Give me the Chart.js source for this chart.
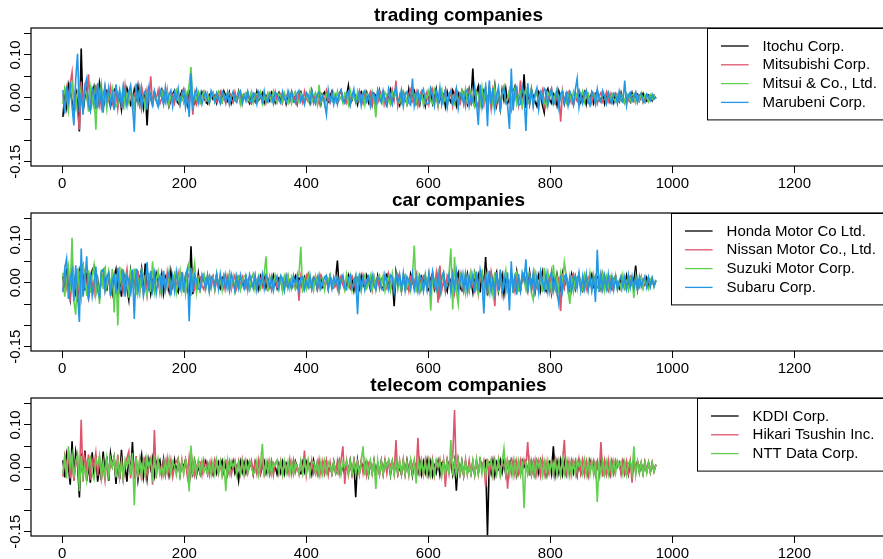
<!DOCTYPE html>
<html>
<head>
<meta charset="utf-8">
<script src="https://cdn.jsdelivr.net/npm/chart.js@4/dist/chart.umd.min.js"></script>
<style>
  html, body { margin: 0; padding: 0; background: #fff; width: 883px; height: 559px; overflow: hidden; }
  canvas { position: absolute; left: 0; }
</style>
</head>
<body>
<canvas id="trading" width="886" height="200" style="top:0px"></canvas>
<canvas id="car" width="886" height="200" style="top:185px"></canvas>
<canvas id="telecom" width="886" height="190" style="top:369px"></canvas>
<script>
// Daily returns in thousandths, one value every DAY_STEP trading days.
const DAY_STEP = 3;

// trading companies
const itochu = [
  -45,6,-22,31,12,-8,-27,19,4,-79,115,-33,2,21,-14,-29,8,26,-5,-18,35,11,-24,-3,16,
  9,-21,-4,17,25,-12,3,-28,14,-6,22,7,-17,-10,19,-2,27,-15,5,-24,13,-65,18,1,-9,
  14,-3,-16,8,19,-11,2,12,-20,-6,9,17,-5,-13,4,15,-9,6,-17,11,22,-7,-14,3,10,
  -6,13,1,-9,-14,7,11,-3,5,-12,9,-2,-10,15,4,-7,12,-13,2,8,-5,14,-11,-1,6,
  10,-4,-13,8,3,-9,14,-6,1,11,-12,5,-2,-8,13,7,-11,4,12,-6,-3,9,-14,6,-1,
  12,-7,3,-15,9,14,-4,-11,6,1,-13,16,-8,5,-2,11,-15,7,13,-5,-10,4,15,-9,2,
  -12,8,16,-3,-10,5,28,-14,-6,11,3,-16,9,14,-7,-2,12,-11,6,-15,10,4,-8,17,-5,
  13,-4,-17,9,20,-11,2,15,-8,-18,6,12,-3,-14,19,-9,7,16,-13,1,-16,11,5,-19,8,
  -7,18,-13,4,21,-16,-5,12,9,-20,14,-2,-11,17,6,-18,10,-4,15,-9,3,-14,19,-6,68,
  -22,11,27,-8,-19,15,4,-25,23,-12,-3,29,-17,8,-26,18,-6,21,-14,5,-23,12,26,-10,-4,
  16,-11,55,-24,7,-15,19,3,-9,-20,14,8,-17,-35,12,21,-6,-13,10,4,-18,15,-2,11,-14,
  7,-13,12,2,-16,9,-5,14,-10,3,13,-15,6,-1,11,-12,8,16,-7,-3,10,-14,5,12,-9,
  6,-11,9,3,-8,12,-4,-10,7,1,-9,11,-6,4,8,-7,2,10,-5,-8,6,3,-7,5,-2
];
const mitsubishi = [
  8,-27,21,-6,33,60,-19,4,-31,-75,38,-12,25,2,55,-28,11,-20,30,-9,14,-23,6,27,-15,
  -8,24,-14,3,19,-26,12,5,-18,28,-11,-2,20,-23,9,15,-7,-21,26,4,-16,18,-5,50,-22,
  11,-4,17,-14,-2,13,-9,19,-16,5,8,-12,15,-3,-18,10,21,-7,4,-13,15,-40,9,-15,6,
  -11,3,14,-7,9,-13,1,12,-5,-10,8,15,-9,2,-14,6,11,-4,-12,13,-6,2,10,-15,7,
  -3,12,-9,-14,6,10,-2,13,4,-11,8,-13,2,11,-7,-5,14,-10,3,9,-12,6,-1,12,-8,
  13,-6,2,-14,10,7,-11,15,-3,-9,12,4,-13,8,-1,-15,11,6,-10,16,-4,-12,9,3,-7,
  -14,9,17,-5,2,-12,10,-16,6,13,-3,-9,15,1,-13,11,-7,4,14,-17,8,-2,-11,16,5,
  12,-16,3,9,-13,17,-5,40,-19,6,-11,14,2,-15,8,19,-10,-4,13,-18,7,16,-9,-14,11,
  -16,6,20,-11,3,-21,14,9,-7,18,-14,-3,16,-19,10,22,-8,-15,5,13,-20,7,17,-12,1,
  19,-9,-23,14,6,-17,24,-4,11,-26,21,3,-14,18,-20,8,25,-11,-6,16,-24,12,2,19,-15,
  40,-17,8,13,-11,-4,20,-16,6,15,-13,3,18,-20,9,-7,14,22,-10,-15,11,4,-56,16,-8,
  5,13,-11,2,-15,10,-6,14,8,-12,-3,16,-9,1,-13,11,7,-14,4,12,-10,-2,13,-8,9,
  -10,6,11,-3,-8,9,2,-12,7,-5,10,-1,-9,12,4,-7,8,-11,3,6,-8,5,-4,6,-2
];
const mitsui = [
  -15,22,4,-31,17,34,-10,-26,13,29,-3,-24,18,7,-33,23,-11,14,-75,26,-6,31,-19,9,-27,
  19,-7,23,2,-21,-14,16,-3,27,-18,8,-12,20,5,-24,14,-9,21,-17,3,-26,11,17,-6,-15,
  12,-4,-15,9,16,-10,3,14,-17,7,-8,11,18,-6,-14,5,-11,16,2,30,72,-24,9,-3,13,
  -12,4,14,-6,9,-14,2,12,-9,6,15,-3,-11,8,-1,13,-13,5,10,-7,-2,12,-15,7,3,
  11,-8,-2,14,-12,6,9,-4,13,-14,3,-10,12,1,-8,15,-5,-12,9,4,-9,11,-3,-13,10,
  -13,6,14,-2,-11,10,3,-14,9,-6,16,-10,4,12,-15,30,-12,5,-16,8,13,-4,-9,11,-7,
  15,-6,2,-13,11,8,-15,17,-3,6,-12,14,-8,1,12,-17,9,4,-11,14,-6,-46,15,-4,9,
  -14,13,5,-10,-16,12,3,15,-9,-13,18,-4,9,-15,2,-11,16,7,-12,14,-5,10,-17,8,-2,
  17,-8,-14,19,4,-17,12,21,-11,2,-20,9,14,-5,-15,13,-19,6,16,-8,20,-12,-3,15,-10,
  -22,13,6,-17,24,-9,19,-26,4,11,-18,23,-6,14,-24,9,25,-12,-3,17,-20,10,22,-14,5,
  13,-18,8,19,-12,-5,21,-15,3,10,-16,14,6,-9,-19,12,2,17,-13,8,20,-11,-4,15,-8,
  -14,5,12,-9,14,-3,10,-12,2,15,-10,7,11,-15,4,9,-12,13,-4,-9,12,3,-13,10,-5,
  9,-3,-10,8,12,-7,4,-11,10,1,-8,6,9,-12,3,-5,11,-8,7,2,-9,6,-3,5,-2
];
const marubeni = [
  18,-37,26,-8,36,-21,-65,43,103,-34,12,-40,27,45,-18,-31,22,9,-26,34,-14,19,-35,24,-6,
  23,-17,8,-29,31,-5,18,-24,27,4,-19,14,29,-12,-80,33,-9,21,-25,6,16,-28,22,-4,-18,
  15,-8,-21,19,3,-16,24,-11,7,17,-20,12,-5,21,-14,9,18,-23,4,-45,57,-17,8,20,-12,
  10,-15,3,13,-8,-12,16,5,-10,11,-3,-14,15,7,-9,12,-16,2,14,-6,-11,9,16,-13,4,
  -8,15,-3,-12,11,6,-15,13,2,-9,16,-7,-11,10,4,-14,12,8,-5,-13,14,-2,-10,15,-6,
  14,-5,-13,10,17,-9,3,-15,12,6,-11,16,-2,-14,9,13,-7,4,-12,-40,18,-8,11,-16,5,
  -15,11,19,-6,-13,8,15,-17,4,20,-11,-5,14,-18,9,16,-9,3,-20,12,7,-14,18,-2,-12,
  16,-6,-18,21,5,-15,12,23,-10,-3,17,-20,8,14,-12,-17,45,-19,6,15,-13,10,20,-8,-16,
  -12,21,6,-19,15,-8,24,-17,3,18,-22,9,16,-14,-5,20,-24,11,7,-16,13,19,-20,4,-9,
  25,-12,-64,31,-21,9,27,-67,40,-16,22,-27,6,24,-33,14,21,-8,-19,-73,68,-30,13,24,-18,
  -15,26,5,-78,34,-12,18,-21,9,23,-26,11,-7,22,16,-19,4,20,-15,-8,17,-23,10,15,-12,
  9,-18,14,4,-16,19,45,-22,7,-13,12,17,-10,-18,14,3,-15,20,-6,-11,16,2,-14,11,-5,
  -13,10,4,-14,15,-6,-11,40,-18,7,12,-9,2,13,-11,6,10,-8,-12,9,3,-7,8,-4,2
];

// car companies
const honda = [
  15,-24,33,-8,-37,42,11,-29,-40,27,4,35,-18,23,-32,-6,29,38,-21,7,-34,17,2,28,-19,
  21,-8,-27,12,31,-19,4,-33,24,9,-14,-40,27,-3,16,-28,22,6,33,-17,45,-23,11,-26,3,
  -18,22,5,-15,19,-24,14,2,-20,26,-7,17,-13,-22,12,20,-4,15,-17,-30,85,-27,9,-14,21,
  -15,6,17,-9,12,-16,3,14,-11,19,-6,-14,10,16,-3,-12,18,-8,5,-17,11,15,-13,2,-10,
  13,-6,-16,12,18,-9,4,-15,14,-3,16,-11,9,-5,-14,17,2,-13,11,7,-16,10,-4,14,-8,
  -12,4,15,-9,11,6,-14,12,-3,17,-10,-6,13,9,-15,3,14,-11,-7,12,-13,15,2,-9,8,
  52,-17,6,12,-13,-4,16,-10,9,-18,13,2,-14,15,-7,-11,17,4,-15,10,7,-12,16,-5,-9,
  -16,12,19,-7,-14,10,-55,24,-3,14,-19,8,15,-11,-17,20,5,-13,18,-8,-20,13,2,17,-12,
  -18,9,22,-15,4,17,-24,12,19,-6,-20,14,-2,21,-16,8,23,-11,-18,13,-4,20,-15,6,-22,
  20,-8,16,-23,27,-12,60,-30,5,21,-17,11,25,-20,3,19,-26,14,8,-23,22,-11,-18,25,-5,
  -20,12,21,-9,-15,25,-6,14,-22,3,19,-16,23,-8,-19,15,5,-24,18,-11,20,-3,-17,21,-9,
  14,-6,-18,20,3,-15,12,17,-10,-19,8,15,-13,4,19,-11,-16,13,7,-14,18,-5,11,-16,2,
  -13,9,15,-6,-14,11,3,-12,16,-7,-10,12,4,40,-16,8,13,-9,-5,11,-10,6,3,-7,4
];
const nissan = [
  -18,27,-8,34,-45,60,-31,6,-37,24,13,-27,32,-14,-35,19,2,-23,30,-11,-33,15,21,-18,7,
  17,-25,4,21,-9,-31,13,27,-20,6,32,-16,-26,10,19,-13,28,-22,3,-24,18,-29,9,22,-12,
  -19,8,16,-22,13,4,-15,24,-11,-21,14,7,-18,22,-5,17,-13,-23,11,20,-9,19,-14,3,16,
  14,-7,-16,10,3,16,-12,12,-18,5,-10,15,2,-14,18,-8,11,-16,4,17,-13,7,-11,14,-2,
  -13,6,14,-9,-4,17,-14,3,10,-12,-6,16,-9,12,-17,4,15,-11,-7,13,9,-15,16,-3,5,
  11,-4,-13,15,-42,14,-10,3,16,-8,6,-15,11,-2,14,-11,17,5,-13,9,-16,13,1,-10,15,
  -14,8,16,-6,-17,12,2,-9,15,5,-16,13,10,-12,17,-4,-11,14,6,-18,15,-3,11,-14,8,
  16,-5,-14,19,-8,12,-18,2,20,7,-13,17,-15,4,-19,14,9,-10,18,-17,3,-14,16,11,-15,
  19,-11,16,-8,22,-47,40,-18,5,-21,17,8,-12,19,-23,11,-16,21,-4,-19,15,6,-17,22,-9,
  -21,12,-25,18,7,-16,22,-7,-19,26,4,-55,25,-12,16,-26,9,20,-13,-18,23,4,-20,17,-6,
  -18,14,22,-9,-23,16,3,-17,21,-7,-20,18,11,-15,-4,20,-18,25,-9,6,-24,13,-66,21,-10,
  16,-8,-16,14,21,-13,5,18,-15,-6,17,-14,9,19,-16,3,15,-12,-8,20,-14,16,2,-15,11,
  -13,7,16,-10,3,-15,12,6,-12,9,15,-6,-13,12,4,-9,13,-11,2,-8,12,-5,9,-7,4
];
const suzuki = [
  23,-33,6,38,-21,105,-44,-75,34,-12,-38,45,10,-31,29,-24,16,41,-27,4,-50,31,-15,37,-9,
  25,-14,32,-70,21,-100,38,-6,31,-27,12,-35,24,-2,33,-29,7,-24,30,18,-12,-31,19,-22,50,
  -21,9,27,-16,-28,19,4,-13,25,-22,8,20,-24,3,28,-18,12,-26,21,50,-31,17,45,-23,6,
  -17,8,20,-14,16,-19,4,13,-15,22,-7,10,-18,17,2,-14,21,-9,15,-20,6,14,-17,3,16,
  15,-9,-18,12,21,-16,6,17,-13,3,19,62,-21,14,-6,-12,18,5,-16,11,-19,15,-4,17,-14,
  13,-8,-16,11,18,84,-23,6,-14,17,-10,4,-18,15,-5,16,-13,8,-17,14,3,18,-14,-6,11,
  14,-17,5,11,-15,19,-7,16,-18,3,17,-12,15,-19,6,18,-13,-4,16,-15,12,-18,7,17,-10,
  16,-19,4,13,-17,21,-8,18,-16,2,-20,15,19,-12,6,-18,14,87,-23,16,-19,5,-17,20,-9,
  18,-65,22,4,-16,20,-23,9,24,-14,-6,21,80,-63,60,-20,-50,23,-8,19,-24,11,-18,23,3,
  22,-11,-26,19,28,-17,3,24,-23,8,-27,20,11,-15,25,-22,4,29,-19,-6,15,-25,21,26,-20,
  -19,23,4,-16,21,17,-24,-40,20,-6,-18,15,-22,35,-17,24,3,-20,42,-12,16,-21,22,-5,48,
  18,-15,-50,16,-20,14,3,21,-13,-18,19,6,-18,22,-14,17,-21,5,15,-12,20,-17,13,-9,16,
  15,-6,17,-16,4,-14,18,-11,3,-17,13,9,-36,16,-12,2,14,-13,11,-6,-15,8,13,-10,5
];
const subaru = [
  -22,33,56,-38,9,28,-43,41,-25,-92,80,-33,6,62,-41,23,-31,2,38,-20,-35,25,31,-17,13,
  23,-31,7,17,-25,35,-20,-8,29,-33,16,4,-22,31,-85,33,-23,10,28,-31,-5,48,-20,27,-17,
  21,-25,3,16,-21,28,-17,9,23,-29,14,-19,26,-4,-16,24,-23,17,33,-90,35,-22,18,5,-15,
  -16,19,3,-13,17,-20,14,8,-10,18,-15,21,-5,16,-14,12,-18,20,4,-19,15,-12,18,-3,-15,
  14,-17,19,5,-13,16,-18,12,-2,20,-14,17,7,-11,13,-19,3,15,-12,17,10,-18,14,-13,4,
  -13,16,-4,15,-17,11,14,-16,2,-11,17,-14,12,6,-15,16,-13,-3,14,17,-15,11,-14,13,-5,
  15,-14,4,17,-12,-16,11,18,-13,-2,16,-74,21,-14,12,-17,6,15,-11,18,-8,-16,12,9,-13,
  -17,20,3,-16,18,13,-21,17,-5,19,-15,22,-18,14,4,-13,21,-16,12,-19,18,7,-20,13,-17,
  21,-18,25,-4,-16,19,-22,14,24,-15,-6,18,-23,16,-12,26,-19,3,22,-17,20,-21,15,-8,18,
  -22,26,-19,30,6,-72,22,-17,28,-21,8,-25,23,-18,31,-26,15,-20,24,-65,50,-23,19,-28,21,
  -17,22,6,55,-24,18,-14,23,-19,15,-22,26,3,-16,20,-21,14,24,-18,9,-23,-50,17,-20,16,
  19,-16,14,-20,4,17,-13,22,-18,15,-14,20,-17,12,-19,16,-45,77,-22,18,-14,17,-13,20,-16,
  14,-17,12,-15,3,16,-11,13,-14,18,-12,15,-13,11,-16,14,-10,4,15,-11,12,-10,11,-8,7
];

// telecom companies
const kddi = [
  17,-23,31,4,-40,62,-28,37,9,-70,33,-21,40,-31,6,-35,36,-17,27,-33,3,-29,38,-14,26,
  -31,33,4,24,-38,20,-27,42,-22,1,-33,28,-14,60,-25,20,-29,5,30,-21,14,-26,19,-3,22,
  -18,14,3,17,-12,20,-15,11,-19,5,-13,18,-10,15,-17,12,2,19,-11,-40,16,-13,15,-18,4,
  -14,12,3,15,-13,9,-2,-16,11,-12,13,1,16,-11,10,-15,12,-9,14,-13,2,-30,13,-10,12,
  -11,14,2,10,-15,12,-9,13,-14,4,15,-12,8,-13,14,-10,3,-15,9,-11,13,-14,10,-2,11,
  13,-12,15,2,-11,-14,12,-9,14,3,10,-15,16,-11,12,-14,9,13,-12,15,-10,4,-13,14,-11,
  -13,15,-11,3,-16,12,-10,17,-14,11,-69,16,-12,13,2,10,14,-17,12,-11,15,-13,9,-14,16,
  -14,16,3,15,-17,13,-11,18,-15,4,-16,14,-13,17,-10,15,-18,11,2,-12,16,-15,13,-11,17,
  -15,13,-18,4,-12,14,-17,11,15,-13,18,2,12,-16,14,-54,17,-12,15,-18,13,-11,3,-14,12,
  -16,14,-12,18,3,13,17,-158,15,-13,16,-18,12,-2,17,-11,15,-16,13,-12,18,4,14,-17,12,
  -14,16,2,15,-11,17,-15,12,-16,14,-12,18,3,13,-17,11,15,-13,50,-16,14,-12,17,-15,13,
  -15,12,4,16,-11,13,-17,14,-12,15,-13,11,-16,17,2,14,-15,12,-13,16,-11,14,-14,3,-16,
  13,-11,15,2,12,-10,14,-13,11,-15,12,-9,13,3,14,-11,10,-13,12,-9,11,-10,9,-8,6
];
const hikari = [
  -21,28,3,33,-25,21,-31,6,23,-35,112,-33,25,-4,31,-28,18,2,35,-19,27,-25,4,-30,22,
  -23,19,3,25,-17,31,-21,15,-28,4,23,38,-25,18,-15,27,-22,20,-29,16,24,-18,2,21,-40,
  88,-25,17,3,-20,15,-16,22,-13,18,-21,4,14,23,-15,19,-12,16,-20,25,-14,17,-18,2,15,
  13,-16,18,-2,11,-17,15,-12,19,3,-15,13,-18,10,16,-13,14,-17,4,17,-11,15,-14,18,-16,
  15,-13,2,17,-16,12,-14,19,-11,15,-17,3,16,-15,14,-18,11,17,-13,15,-16,12,4,-14,19,
  -14,17,-12,3,-16,13,-11,40,-18,14,-15,17,-13,2,-16,18,-14,15,-12,16,-17,13,-15,4,-13,
  16,-14,18,50,-38,15,-17,13,-15,19,2,14,-16,17,-13,15,-18,12,16,-14,18,-15,3,-17,14,
  -16,18,-14,17,4,15,-13,65,-21,16,-15,19,-17,14,-18,16,2,18,-15,70,-19,15,-16,18,-14,
  17,-15,19,-18,14,3,20,-13,17,-45,15,-14,21,23,135,-19,16,-17,4,-18,19,-15,17,-13,15,
  -17,19,-15,18,3,16,-45,20,-16,15,-18,17,-13,19,-15,14,2,16,-49,18,-14,17,-16,15,-13,
  16,-14,18,3,60,-19,15,-13,17,-16,14,-18,19,-15,13,-17,4,16,-14,18,-12,15,-17,14,65,
  -19,15,-17,18,2,16,-15,19,-13,17,-16,14,-18,15,3,17,-15,13,-16,60,-21,16,-14,18,-15,
  15,-13,17,3,12,-16,14,-11,15,-13,16,-35,13,-12,15,2,11,-13,14,-10,12,-11,13,-9,8
];
const nttData = [
  -13,21,-25,50,4,31,-23,15,33,-55,28,-21,3,-29,18,25,-15,-27,19,6,29,-22,14,-19,23,
  -18,21,2,25,-23,17,-20,13,-25,19,4,22,-17,35,-88,23,-16,20,-21,15,-19,24,3,18,-22,
  17,-14,19,-16,2,-18,15,-12,20,-15,14,3,-17,16,-19,13,-15,18,4,-55,52,-17,15,-14,16,
  -13,15,-12,3,-14,11,-16,13,-15,18,-11,14,-17,12,-55,16,-13,15,2,14,-16,11,-14,15,-13,
  14,-12,16,3,-15,-11,15,-17,12,56,-21,14,-13,16,-15,12,4,17,-11,13,-16,15,-12,14,-15,
  13,-15,12,2,-14,16,-13,15,-11,17,-16,12,14,-12,13,-17,14,-15,16,-11,13,3,-14,15,-13,
  -15,14,-16,13,2,17,-14,15,-13,16,-17,12,-15,14,50,-18,13,-15,16,-12,14,-50,17,-14,15,
  -16,15,3,18,-15,14,-17,16,-12,15,-14,17,-16,13,-15,18,-14,16,-37,15,-13,17,-15,14,-16,
  15,-17,14,-16,18,2,15,-19,17,-14,16,-15,65,-18,13,-16,17,-14,15,-18,14,-16,3,-15,17,
  -16,18,-14,17,-15,13,-18,16,3,19,-17,15,-14,16,-18,14,45,-15,17,-16,13,-19,15,-14,16,
  -15,17,-95,16,-14,18,-16,13,-17,15,2,16,-18,14,-15,17,-12,16,-14,15,-17,13,-16,18,-14,
  15,-16,14,-18,13,-15,17,3,16,-13,18,-15,14,-17,13,-16,15,-80,17,-14,16,-15,13,-16,14,
  -14,15,-13,16,2,14,-15,13,-16,12,15,-13,50,-17,14,-12,13,-15,11,-13,12,-10,11,-9,7
];

const xTickValues = [0, 200, 400, 600, 800, 1000, 1200];
const yTickValues = [-0.15, -0.10, -0.05, 0, 0.05, 0.10, 0.15];
const yTickLabels = { '0.1': '0.10', '0': '0.00', '-0.15': '-0.15' };

const PALETTE = ['#000000', '#DF536B', '#61D04F', '#2297E6'];
const FONT = '"Liberation Sans", Arial, Helvetica, sans-serif';
const X_MIN = -51.3, X_MAX = 1350.3;
const Y_MIN = -0.160, Y_MAX = 0.1632;

// base-graphics look: framed plot, rotated y labels, boxed legend, bold title
const framePlugin = {
  id: 'frame',
  afterDraw(chart, args, opts) {
    const { ctx, chartArea: a } = chart;
    ctx.save();
    ctx.strokeStyle = '#000';
    ctx.lineWidth = 1.2;
    ctx.strokeRect(a.left, a.top, a.right - a.left, a.bottom - a.top);

    // y tick labels, reading upwards
    const ys = chart.scales.y;
    ctx.fillStyle = '#000';
    ctx.font = '15px ' + FONT;
    ctx.textAlign = 'center';
    ctx.textBaseline = 'middle';
    yTickValues.forEach(v => {
      const key = String(Math.round(v * 100) / 100);
      const txt = yTickLabels[key];
      if (!txt) return;
      const y = ys.getPixelForValue(v);
      ctx.save();
      ctx.translate(16, y);
      ctx.rotate(-Math.PI / 2);
      ctx.fillText(txt, 0, 0);
      ctx.restore();
    });

    // title
    ctx.font = 'bold 19px ' + FONT;
    ctx.fillText(opts.title, (a.left + a.right) / 2, a.top - 12);

    // legend
    const lg = opts.legend;
    const names = chart.data.datasets.map(d => d.label);
    const rowH = 18.8, first = 18;
    const h = first * 2 + (names.length - 1) * rowH - 1;
    ctx.fillStyle = '#fff';
    ctx.fillRect(lg.left, a.top, a.right - lg.left + 2, h);
    ctx.strokeStyle = '#000';
    ctx.lineWidth = 1;
    ctx.strokeRect(lg.left + 0.5, a.top + 0.5, a.right - lg.left + 4, h);
    ctx.font = '15px ' + FONT;
    ctx.textAlign = 'left';
    names.forEach((n, k) => {
      const y = a.top + first + k * rowH;
      ctx.strokeStyle = chart.data.datasets[k].borderColor;
      ctx.lineWidth = 1.3;
      ctx.beginPath();
      ctx.moveTo(lg.left + 14, y);
      ctx.lineTo(lg.left + 41.6, y);
      ctx.stroke();
      ctx.fillStyle = '#000';
      ctx.fillText(n, lg.left + 55.6, y + 0.5);
    });
    ctx.restore();
  }
};

function drawPanel(id, title, names, series, legendLeft, padTop, axisH) {
  new Chart(document.getElementById(id), {
    type: 'line',
    data: {
      datasets: series.map((s, k) => ({
        label: names[k],
        data: s.map((v, i) => ({ x: i * DAY_STEP + 1, y: v / 1000 })),
        borderColor: PALETTE[k],
        borderWidth: 1.6,
        pointRadius: 0,
        tension: 0,
        fill: false,
        order: series.length - k
      }))
    },
    options: {
      responsive: false,
      animation: false,
      devicePixelRatio: 1,
      events: [],
      layout: { padding: { top: padTop, left: 0, right: 0, bottom: 0 } },
      plugins: {
        legend: { display: false },
        tooltip: { enabled: false },
        frame: { title: title, legend: { left: legendLeft } }
      },
      scales: {
        x: {
          type: 'linear',
          min: X_MIN,
          max: X_MAX,
          afterBuildTicks: ax => { ax.ticks = xTickValues.map(v => ({ value: v })); },
          afterFit: ax => { ax.height = axisH; },
          border: { display: false },
          grid: { drawOnChartArea: false, drawTicks: true, tickLength: 7, color: '#000', lineWidth: 1 },
          ticks: {
            autoSkip: false, maxRotation: 0, minRotation: 0, padding: 2, color: '#000',
            font: { family: FONT, size: 15 },
            callback: v => String(v)
          }
        },
        y: {
          type: 'linear',
          min: Y_MIN,
          max: Y_MAX,
          afterBuildTicks: ax => { ax.ticks = yTickValues.map(v => ({ value: v })); },
          afterFit: ax => { ax.width = 31; },
          border: { display: false },
          grid: { drawOnChartArea: false, drawTicks: true, tickLength: 7, color: '#000', lineWidth: 1 },
          ticks: { display: false }
        }
      }
    },
    plugins: [framePlugin]
  });
}

drawPanel('trading', 'trading companies',
  ['Itochu Corp.', 'Mitsubishi Corp.', 'Mitsui & Co., Ltd.', 'Marubeni Corp.'],
  [itochu, mitsubishi, mitsui, marubeni], 707, 28, 34);
drawPanel('car', 'car companies',
  ['Honda Motor Co Ltd.', 'Nissan Motor Co., Ltd.', 'Suzuki Motor Corp.', 'Subaru Corp.'],
  [honda, nissan, suzuki, subaru], 671, 28, 34);
drawPanel('telecom', 'telecom companies',
  ['KDDI Corp.', 'Hikari Tsushin Inc.', 'NTT Data Corp.'],
  [kddi, hikari, nttData], 697, 29, 23);
</script>
</body>
</html>
